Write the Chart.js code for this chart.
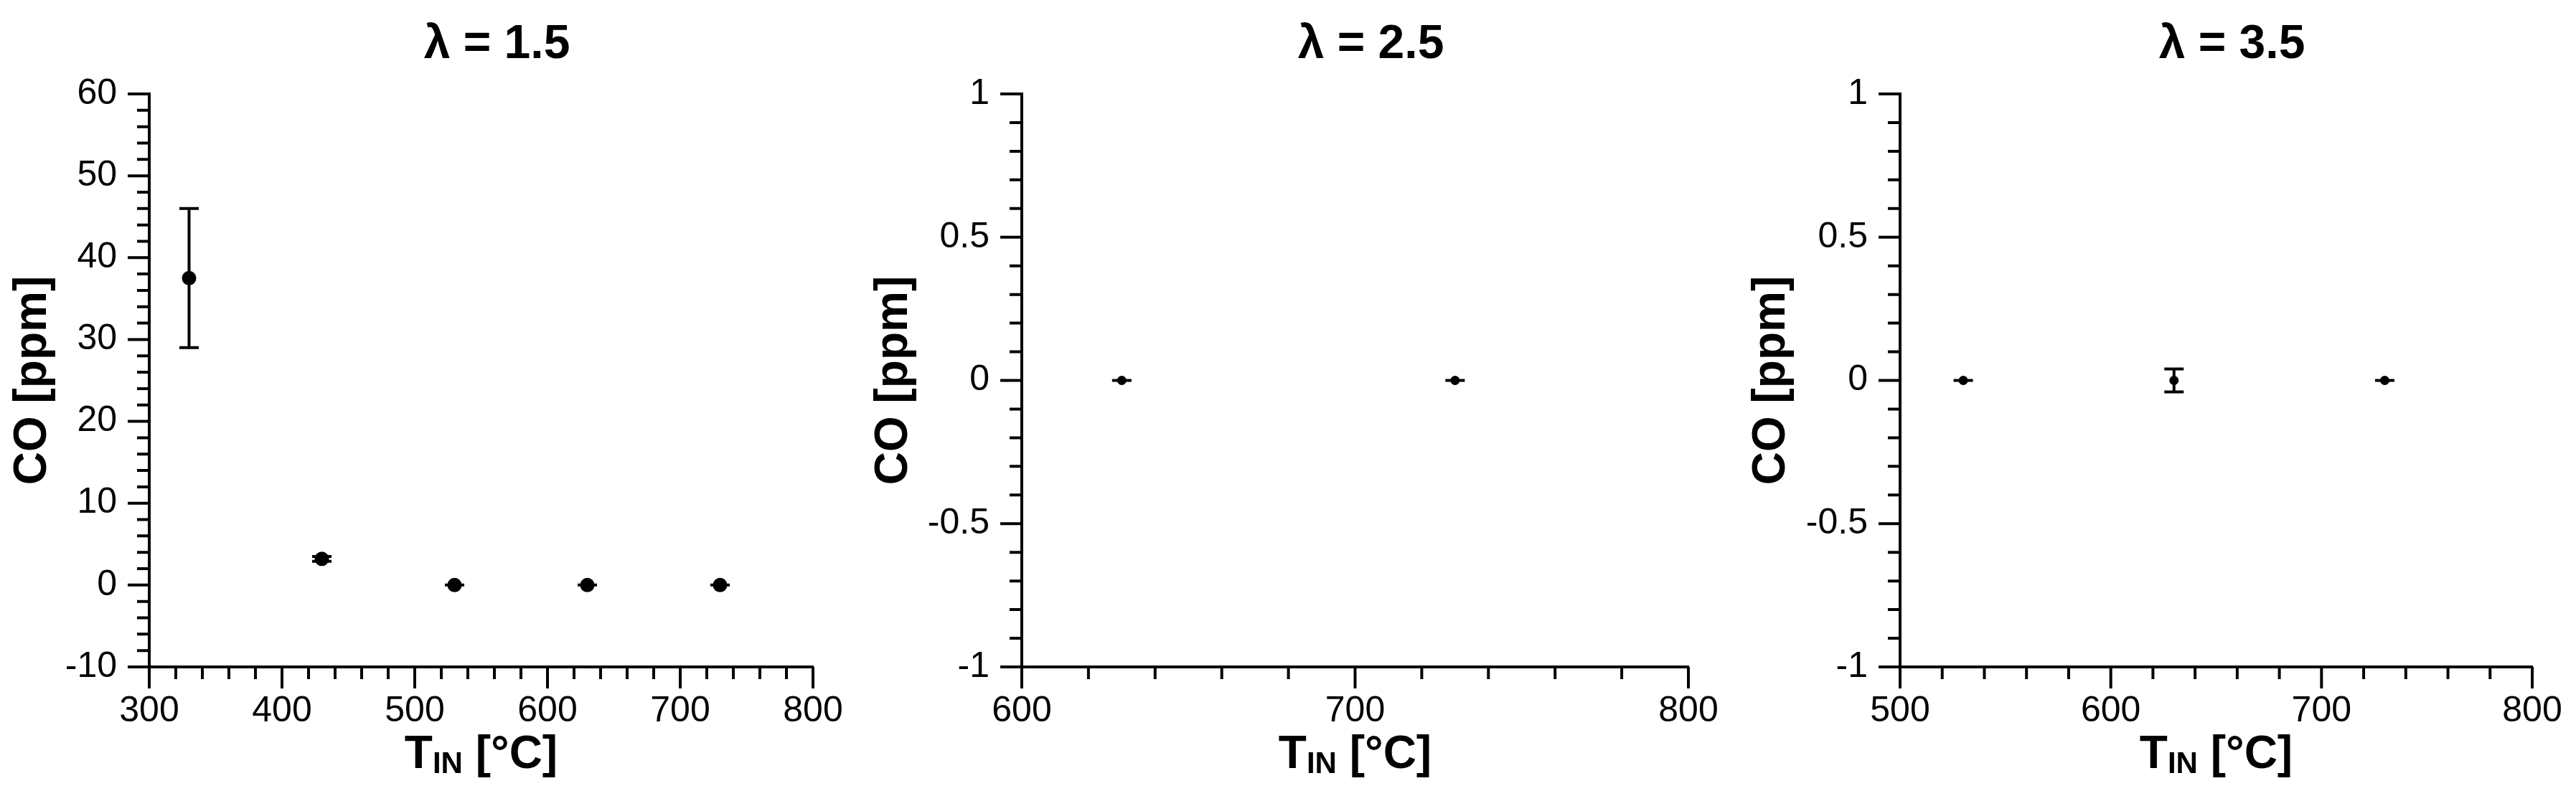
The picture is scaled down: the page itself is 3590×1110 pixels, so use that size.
<!DOCTYPE html>
<html><head><meta charset="utf-8">
<script src="https://cdn.jsdelivr.net/npm/chart.js@4.4.1/dist/chart.umd.min.js"></script>
<style>
html,body{margin:0;padding:0;background:#fff;}
#wrap{position:relative;width:3590px;height:1110px;overflow:hidden;background:#fff;}
canvas{position:absolute;top:0;}
</style></head><body>
<div id="wrap">
<canvas id="c1" width="1190" height="1110" style="left:0px;width:1190px;height:1110px"></canvas>
<canvas id="c2" width="1260" height="1110" style="left:1200px;width:1260px;height:1110px"></canvas>
<canvas id="c3" width="1190" height="1110" style="left:2400px;width:1190px;height:1110px"></canvas>
</div>
<script>
// ---------------- data ----------------
const titles = ['λ = 1.5', 'λ = 2.5', 'λ = 3.5'];
const yAxisTitle = 'CO [ppm]';
const xAxisTitleMain = 'T';
const xAxisTitleSub = 'IN';
const xAxisTitleRest = ' [°C]';

const temps1 = [330, 430, 530, 630, 730];
const co1    = [37.5, 3.2, 0, 0, 0];
const err1   = [8.5, 0.3, 0, 0, 0];

const temps2 = [630, 730];
const co2    = [0, 0];
const err2   = [0, 0];

const temps3 = [530, 630, 730];
const co3    = [0, 0, 0];
const err3   = [0, 0.04, 0];

const xTicks1 = [300, 400, 500, 600, 700, 800];
const yTicks1 = [-10, 0, 10, 20, 30, 40, 50, 60];
const xTicks2 = [600, 700, 800];
const yTicks2 = [-1, -0.5, 0, 0.5, 1];
const xTicks3 = [500, 600, 700, 800];
const yTicks3 = [-1, -0.5, 0, 0.5, 1];

const xMinor1 = 20, yMinor1 = 2;
const xMinor2 = 20, yMinor2 = 0.1;
const xMinor3 = 20, yMinor3 = 0.1;

// ---------------- layout / style ----------------
const FONT = "'Liberation Sans', Arial, Helvetica, sans-serif";
const H = 1110, TOP = 131, XAXIS_H = 180;

function minorValues(min, max, step) {
  const out = [];
  const n = Math.round((max - min) / step);
  for (let i = 0; i <= n; i++) out.push(+(min + i * step).toFixed(6));
  return out;
}

const decorPlugin = {
  id: 'decor',
  beforeDatasetsDraw(chart) {
    const o = chart.options.plugins.decor;
    const {ctx, scales: {x, y}} = chart;
    ctx.save();
    ctx.strokeStyle = '#000';
    ctx.lineWidth = 4;
    ctx.lineCap = 'butt';
    for (let i = 0; i < o.xs.length; i++) {
      const px = x.getPixelForValue(o.xs[i]);
      const pt = y.getPixelForValue(o.ys[i] + o.err[i]);
      const pb = y.getPixelForValue(o.ys[i] - o.err[i]);
      ctx.beginPath();
      ctx.moveTo(px, pt); ctx.lineTo(px, pb);
      ctx.moveTo(px - o.cap, pt); ctx.lineTo(px + o.cap, pt);
      ctx.moveTo(px - o.cap, pb); ctx.lineTo(px + o.cap, pb);
      ctx.stroke();
    }
    ctx.restore();
  },
  afterDraw(chart) {
    const o = chart.options.plugins.decor;
    const {ctx, chartArea: a, scales: {x, y}} = chart;
    ctx.save();
    ctx.strokeStyle = '#000';
    ctx.lineWidth = 4;
    // x ticks
    const xm = minorValues(x.min, x.max, o.xMinor);
    ctx.beginPath();
    xm.forEach(v => {
      const isMajor = o.xMajor.some(t => Math.abs(t - v) < 1e-6);
      const px = x.getPixelForValue(v);
      ctx.moveTo(px, a.bottom);
      ctx.lineTo(px, a.bottom + (isMajor ? 30 : 17));
    });
    // y ticks
    const ym = minorValues(y.min, y.max, o.yMinor);
    ym.forEach(v => {
      const isMajor = o.yMajor.some(t => Math.abs(t - v) < 1e-6);
      const py = y.getPixelForValue(v);
      ctx.moveTo(a.left, py);
      ctx.lineTo(a.left - (isMajor ? 30 : 17), py);
    });
    ctx.stroke();

    ctx.fillStyle = '#000';
    // panel title
    ctx.font = 'bold 66px ' + FONT;
    ctx.textAlign = 'center';
    ctx.textBaseline = 'alphabetic';
    ctx.fillText(o.title, (a.left + a.right) / 2 + o.titleDx, 81);

    // y axis title
    ctx.font = 'bold 64px ' + FONT;
    ctx.save();
    ctx.translate(a.left - o.yTitleOff, (a.top + a.bottom) / 2);
    ctx.rotate(-Math.PI / 2);
    ctx.textAlign = 'center';
    ctx.fillText(yAxisTitle, 0, 0);
    ctx.restore();

    // x axis title with subscript
    ctx.textAlign = 'left';
    const fMain = 'bold 64px ' + FONT, fSub = 'bold 42px ' + FONT;
    ctx.font = fMain; const w1 = ctx.measureText(xAxisTitleMain).width;
    ctx.font = fSub;  const w2 = ctx.measureText(xAxisTitleSub).width;
    ctx.font = fMain; const w3 = ctx.measureText(xAxisTitleRest).width;
    let sx = (a.left + a.right) / 2 - (w1 + w2 + w3) / 2;
    const base = 1071;
    ctx.font = fMain; ctx.fillText(xAxisTitleMain, sx, base); sx += w1;
    ctx.font = fSub;  ctx.fillText(xAxisTitleSub, sx, base + 7); sx += w2;
    ctx.font = fMain; ctx.fillText(xAxisTitleRest, sx, base);
    ctx.restore();
  }
};

function makePanel(id, p) {
  const canvas = document.getElementById(id);
  const ctx = canvas.getContext('2d');
  const W = canvas.width;
  return new Chart(ctx, {
    type: 'scatter',
    data: {
      datasets: [{
        data: p.xs.map((v, i) => ({x: v, y: p.ys[i]})),
        pointRadius: p.radius,
        pointHoverRadius: p.radius,
        pointBackgroundColor: '#000',
        pointBorderColor: '#000',
        pointBorderWidth: 0,
        showLine: false
      }]
    },
    options: {
      responsive: false,
      animation: false,
      events: [],
      clip: false,
      layout: { padding: { left: 0, top: TOP, right: W - p.areaRight, bottom: 0 } },
      plugins: {
        legend: { display: false },
        title: { display: false },
        tooltip: { enabled: false },
        decor: {
          xs: p.xs, ys: p.ys, err: p.err, cap: 13.5,
          xMinor: p.xMinor, yMinor: p.yMinor, xMajor: p.xTicks, yMajor: p.yTicks,
          title: p.title, titleDx: 22, yTitleOff: p.yTitleOff
        }
      },
      scales: {
        x: {
          type: 'linear', position: 'bottom',
          min: p.xTicks[0], max: p.xTicks[p.xTicks.length - 1],
          grid: { display: false, drawTicks: false },
          border: { display: true, color: '#000', width: 4 },
          afterBuildTicks: s => { s.ticks = p.xTicks.map(v => ({value: v})); },
          afterFit: s => { s.height = XAXIS_H; s.paddingLeft = 0; s.paddingRight = 0; },
          ticks: {
            autoSkip: false, maxRotation: 0, color: '#000', padding: 32,
            font: { family: FONT, size: 50 },
            callback: v => String(v)
          }
        },
        y: {
          type: 'linear', position: 'left',
          min: p.yTicks[0], max: p.yTicks[p.yTicks.length - 1],
          grid: { display: false, drawTicks: false },
          border: { display: true, color: '#000', width: 4 },
          afterBuildTicks: s => { s.ticks = p.yTicks.map(v => ({value: v})); },
          afterFit: s => { s.width = p.areaLeft; s.paddingTop = 0; s.paddingBottom = 0; },
          ticks: {
            autoSkip: false, color: '#000', padding: 45,
            font: { family: FONT, size: 50 },
            callback: v => String(v)
          }
        }
      }
    },
    plugins: [decorPlugin]
  });
}

makePanel('c1', { xs: temps1, ys: co1, err: err1, xTicks: xTicks1, yTicks: yTicks1,
  xMinor: xMinor1, yMinor: yMinor1, title: titles[0], radius: 10,
  areaLeft: 208, areaRight: 1133, yTitleOff: 144 });
makePanel('c2', { xs: temps2, ys: co2, err: err2, xTicks: xTicks2, yTicks: yTicks2,
  xMinor: xMinor2, yMinor: yMinor2, title: titles[1], radius: 6.5,
  areaLeft: 224, areaRight: 1153, yTitleOff: 160 });
makePanel('c3', { xs: temps3, ys: co3, err: err3, xTicks: xTicks3, yTicks: yTicks3,
  xMinor: xMinor3, yMinor: yMinor3, title: titles[2], radius: 6.5,
  areaLeft: 248, areaRight: 1129, yTitleOff: 161 });
</script>
</body></html>
